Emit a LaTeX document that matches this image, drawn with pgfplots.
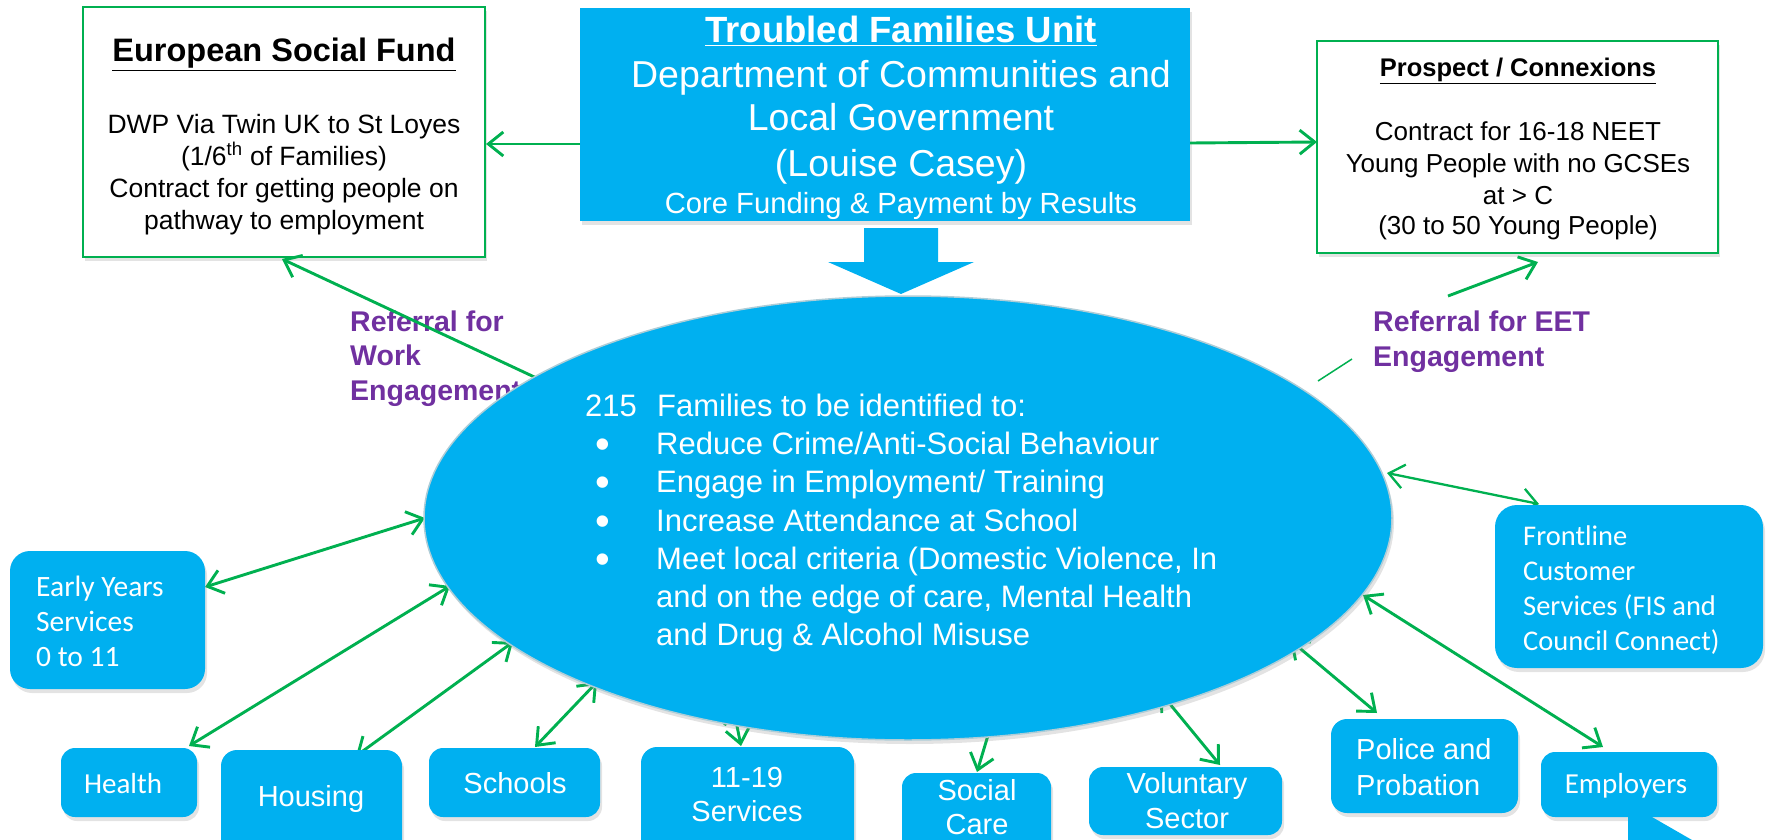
\documentclass[border=0pt]{standalone}
\usepackage{fontspec}
\setmainfont{Liberation Sans}
\newfontfamily\calibri{Carlito}
\usepackage{pgfplots}
\pgfplotsset{compat=1.18}
\usetikzlibrary{arrows.meta,shadows}
\definecolor{cy}{RGB}{0,176,240}
\definecolor{gr}{RGB}{0,176,80}
\definecolor{pu}{RGB}{112,48,160}
\newcommand{\fs}[1]{\fontsize{#1}{#1}\selectfont}
\tikzset{
  t/.style={inner sep=0pt, anchor=base},
  tl/.style={inner sep=0pt, anchor=base west},
  shd/.style={drop shadow={shadow xshift=2pt, shadow yshift=-4pt, opacity=0.22}},
}
\pgfplotsset{arr/.style={gr, line width=2.9pt}}
\begin{document}
\begin{tikzpicture}[>={Straight Barb[length=15pt,width=24pt]}]
\begin{axis}[x=1pt, y=1pt, y dir=reverse, xmin=0, xmax=1770, ymin=0, ymax=840,
  hide axis, clip=false]
% purple referral text (behind ellipse)
\node[tl, font=\fs{28.5}\bfseries, text=pu] at (axis cs:350,331) {Referral for};
\node[tl, font=\fs{28.5}\bfseries, text=pu] at (axis cs:350,365) {Work};
\node[tl, font=\fs{28.5}\bfseries, text=pu] at (axis cs:350,400) {Engagement};
\node[tl, font=\fs{28.5}\bfseries, text=pu] at (axis cs:1373,331) {Referral for EET};
\node[tl, font=\fs{28.5}\bfseries, text=pu] at (axis cs:1373,366) {Engagement};
% ESF box
\filldraw[fill=white, draw=gr, line width=2pt, shd] (axis cs:83,7) rectangle (axis cs:485,257);
\node[t, font=\fs{32.5}\bfseries] at (axis cs:284,62) {\underline{European Social Fund}};
\node[t, font=\fs{26.5}] at (axis cs:284,133) {DWP Via Twin UK to St Loyes};
\node[t, font=\fs{26.5}] at (axis cs:284,165) {(1/6\textsuperscript{th} of Families)};
\node[t, font=\fs{26.5}] at (axis cs:284,197) {Contract for getting people on};
\node[t, font=\fs{26.5}] at (axis cs:284,229) {pathway to employment};
% Prospect box
\filldraw[fill=white, draw=gr, line width=2pt, shd] (axis cs:1317,41) rectangle (axis cs:1718,253);
\node[t, font=\fs{25.5}\bfseries] at (axis cs:1518,77) {\underline{Prospect / Connexions}};
\node[t, font=\fs{26}] at (axis cs:1518,140) {Contract for 16-18 NEET};
\node[t, font=\fs{26}] at (axis cs:1518,172) {Young People with no GCSEs};
\node[t, font=\fs{26}] at (axis cs:1518,204) {at > C};
\node[t, font=\fs{26}] at (axis cs:1518,234) {(30 to 50 Young People)};
% TFU box
\fill[cy, shd] (axis cs:580,8) rectangle (axis cs:1190,221);
\node[t, font=\fs{36.5}\bfseries, text=white] at (axis cs:901,43) {\underline{Troubled Families Unit}};
\node[t, font=\fs{37.5}, text=white] at (axis cs:901,88) {Department of Communities and};
\node[t, font=\fs{37.5}, text=white] at (axis cs:901,130) {Local Government};
\node[t, font=\fs{37.5}, text=white] at (axis cs:901,176) {(Louise Casey)};
\node[t, font=\fs{29.2}, text=white] at (axis cs:901,213) {Core Funding \& Payment by Results};
% block arrow
\fill[cy] (axis cs:864,228) -- (axis cs:938,228) -- (axis cs:938,262) -- (axis cs:974,262)
  -- (axis cs:901,294) -- (axis cs:828,262) -- (axis cs:864,262) -- cycle;
% arrows
\addplot[arr, ->] coordinates {(580,144) (486,144)};
\addplot[arr, ->] coordinates {(1190,143) (1317,142)};
\addplot[arr, ->] coordinates {(560,389) (282,259)};
\addplot[arr, ->] coordinates {(1448,296) (1538,262)};
\addplot[gr, line width=1.5pt] coordinates {(1318,381) (1352,359)};
\addplot[gr, line width=2.3pt, <->] coordinates {(1387,473) (1539,504)};
\addplot[arr, <->] coordinates {(425,518) (205,587)};
\addplot[arr, <->] coordinates {(450,586) (189,746)};
\addplot[arr, <->] coordinates {(513,642) (356,756)};
\addplot[arr, <->] coordinates {(597,682) (535,747)};
\addplot[arr, <->] coordinates {(733,706) (741,746)};
\addplot[arr, <->] coordinates {(995,712) (977,772)};
\addplot[arr, <->] coordinates {(1160,692) (1220,765)};
\addplot[arr, <->] coordinates {(1290,640) (1377,713)};
\addplot[arr, <->] coordinates {(1363,595) (1603,747)};
% ellipse
\fill[cy, draw={rgb,255:red,175;green,205;blue,215}, line width=1.5pt, shd] (axis cs:908,518) ellipse [x radius=484pt, y radius=222pt];
\node[tl, font=\fs{31}, text=white] at (axis cs:585,416) {215};
\node[tl, font=\fs{31}, text=white] at (axis cs:657,416) {Families to be identified to:};
\node[t, font=\fs{42}, text=white] at (axis cs:603,458) {•};
\node[t, font=\fs{42}, text=white] at (axis cs:603,496) {•};
\node[t, font=\fs{42}, text=white] at (axis cs:603,535) {•};
\node[t, font=\fs{42}, text=white] at (axis cs:603,573) {•};
\node[tl, font=\fs{31}, text=white] at (axis cs:656,454) {Reduce Crime/Anti-Social Behaviour};
\node[tl, font=\fs{31}, text=white] at (axis cs:656,492) {Engage in Employment/ Training};
\node[tl, font=\fs{31}, text=white] at (axis cs:656,531) {Increase Attendance at School};
\node[tl, font=\fs{31}, text=white] at (axis cs:656,569) {Meet local criteria (Domestic Violence, In};
\node[tl, font=\fs{31}, text=white] at (axis cs:656,607) {and on the edge of care, Mental Health};
\node[tl, font=\fs{31}, text=white] at (axis cs:656,645) {and Drug \& Alcohol Misuse};
% side boxes
\fill[cy, rounded corners=20pt, shd] (axis cs:10,551) rectangle (axis cs:205,689);
\node[tl, font=\calibri\fs{29.5}, text=white] at (axis cs:36,596) {Early Years};
\node[tl, font=\calibri\fs{29.5}, text=white] at (axis cs:36,631) {Services};
\node[tl, font=\calibri\fs{29.5}, text=white] at (axis cs:36,666) {0 to 11};
\fill[cy, rounded corners=22pt, shd] (axis cs:1495,505) rectangle (axis cs:1763,668);
\node[tl, font=\calibri\fs{28.5}, text=white] at (axis cs:1523,545) {Frontline};
\node[tl, font=\calibri\fs{28.5}, text=white] at (axis cs:1523,580) {Customer};
\node[tl, font=\calibri\fs{28.5}, text=white] at (axis cs:1523,615) {Services (FIS and};
\node[tl, font=\calibri\fs{28.5}, text=white] at (axis cs:1523,650) {Council Connect)};
% bottom boxes
\fill[cy, rounded corners=14pt, shd] (axis cs:61,748) rectangle (axis cs:197,817);
\node[t, font=\calibri\fs{29}, text=white] at (axis cs:123,793) {Health};
\fill[cy, rounded corners=16pt, shd] (axis cs:221,750) rectangle (axis cs:402,860);
\node[t, font=\fs{29}, text=white] at (axis cs:311,806) {Housing};
\fill[cy, rounded corners=14pt, shd] (axis cs:429,748) rectangle (axis cs:600,817);
\node[t, font=\fs{29}, text=white] at (axis cs:515,793) {Schools};
\fill[cy, rounded corners=16pt, shd] (axis cs:641,747) rectangle (axis cs:854,860);
\node[t, font=\fs{29}, text=white] at (axis cs:747,787) {11-19};
\node[t, font=\fs{29}, text=white] at (axis cs:747,821) {Services};
\fill[cy, rounded corners=14pt, shd] (axis cs:902,773) rectangle (axis cs:1051,860);
\node[t, font=\fs{29}, text=white] at (axis cs:977,800) {Social};
\node[t, font=\fs{29}, text=white] at (axis cs:977,834) {Care};
\fill[cy, rounded corners=14pt, shd] (axis cs:1089,767) rectangle (axis cs:1282,835);
\node[t, font=\fs{29}, text=white] at (axis cs:1187,793) {Voluntary};
\node[t, font=\fs{29}, text=white] at (axis cs:1187,828) {Sector};
\fill[cy, rounded corners=16pt, shd] (axis cs:1331,719) rectangle (axis cs:1518,813);
\node[tl, font=\fs{29}, text=white] at (axis cs:1356,759) {Police and};
\node[tl, font=\fs{29}, text=white] at (axis cs:1356,795) {Probation};
\fill[cy, rounded corners=14pt, shd] (axis cs:1541,752) rectangle (axis cs:1717,817);
\node[t, font=\calibri\fs{29}, text=white] at (axis cs:1626,793) {Employers};
\fill[cy] (axis cs:1628,817) -- (axis cs:1652,817) -- (axis cs:1692,840) -- (axis cs:1628,840) -- cycle;
\coordinate (TL) at (axis cs:0,0);
\coordinate (BR) at (axis cs:1770,840);
\end{axis}
\pgfresetboundingbox
\path (TL) rectangle (BR);
\end{tikzpicture}
\end{document}
